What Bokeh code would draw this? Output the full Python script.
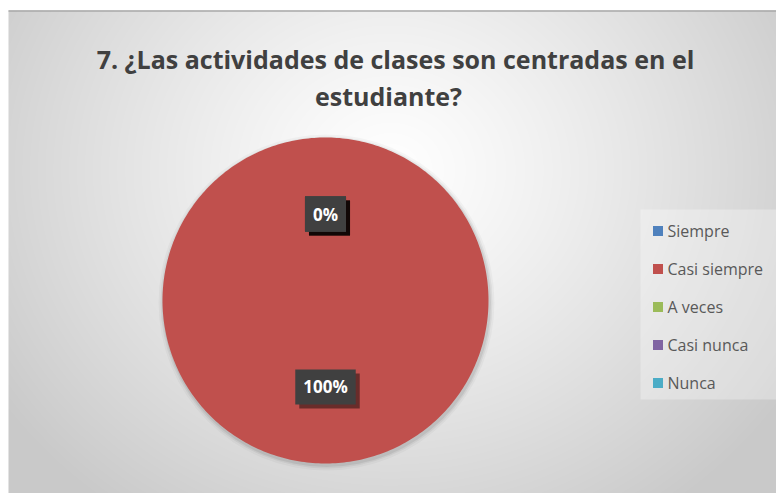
import numpy as np
from bokeh.plotting import figure
from bokeh.models import Range1d
from bokeh.core.properties import value
from bokeh.embed import file_html
from bokeh.resources import INLINE

# ---- data ----
title_lines = ["7. ¿Las actividades de clases son centradas en el", "estudiante?"]
categories = ["Siempre", "Casi siempre", "A veces", "Casi nunca", "Nunca"]
values = [0, 100, 0, 0, 0]
colors = ["#4F81BD", "#C0504D", "#9BBB59", "#8064A2", "#4BACC6"]

# ---- layout constants (pixel coordinates of the page) ----
W, H = 776, 493
CX, CY, R = 325, 300, 163
FONT = value("Open Sans")

p = figure(width=W, height=H, x_range=Range1d(0, W), y_range=Range1d(H, 0),
           output_backend="svg", toolbar_location=None, min_border=0,
           x_axis_location=None, y_axis_location=None)
p.grid.visible = False
p.outline_line_color = None
p.background_fill_color = "white"
p.border_fill_color = "white"

# background radial gradient (chart area)
gx0, gx1, gy0, gy1 = 8, 776, 10, 493
gw, gh = gx1 - gx0, gy1 - gy0
xx, yy = np.meshgrid(np.arange(gw) + gx0 + 0.5, np.arange(gh) + gy0 + 0.5)
d = np.sqrt(((xx - 390) / 470) ** 2 + ((yy - 170) / 420) ** 2)
g = (255 * (1 - 0.21 * np.clip(d, 0, 1) ** 1.2)).astype(np.uint32)
img = (np.uint32(255) << 24) | (g << 16) | (g << 8) | g
p.image_rgba(image=[img], x=gx0, y=gy0, dw=gw, dh=gh)
p.segment(x0=[gx0], y0=[gy0 + 0.5], x1=[gx1], y1=[gy0 + 0.5], line_color="#a8a8a8", line_width=1.5)

# pie shadow
for rr, a in [(168, 0.03), (166, 0.05), (164.5, 0.07)]:
    p.circle(x=[CX + 1], y=[CY + 2], radius=rr, fill_color="black", fill_alpha=a, line_color=None)

# pie slices
fr = np.array(values, dtype=float) / sum(values)
cum = np.concatenate([[0.0], np.cumsum(fr)])
xs, ys = [], []
for i in range(len(fr)):
    th = np.linspace(cum[i], cum[i + 1], max(2, int(fr[i] * 360) + 2)) * 2 * np.pi
    xs.append(list(np.concatenate([[CX], CX + R * np.sin(th)])))
    ys.append(list(np.concatenate([[CY], CY - R * np.cos(th)])))
p.patches(xs, ys, fill_color=colors, line_color=None)

# data labels
mid = (cum[:-1] + fr / 2) * 2 * np.pi
lx = CX + 0.53 * R * np.sin(mid)
ly = CY - 0.53 * R * np.cos(mid)
labels = [f"{v:.0f}%" for v in fr * 100]
common = dict(text_font=FONT, text_font_size="17px", text_font_style="bold",
              text_align="center", text_baseline="middle", padding=(8, 6))
p.text(x=lx, y=ly, text=labels, text_color="white", text_alpha=0,
       background_fill_color="black", background_fill_alpha=0.45,
       x_offset=4, y_offset=4, **common)
p.text(x=lx, y=ly, text=labels, text_color="white",
       background_fill_color="#404040", **common)

# legend
leg_y = [230.5 + i * 38 for i in range(len(categories))]
p.quad(left=[640], right=[790], top=[209], bottom=[399], fill_color="white",
       fill_alpha=0.3, line_color=None)
p.scatter(x=[657.5] * len(categories), y=leg_y, marker="square", size=10,
          fill_color=colors, line_color=None)
p.text(x=[667] * len(categories), y=leg_y, text=categories, text_font=FONT,
       text_font_size="16px", text_color="#595959", text_baseline="middle")

# title
p.text(x=[395, 388], y=[58, 95], text=title_lines, text_font=FONT,
       text_font_size="25px", text_font_style="bold", text_color="#404040",
       text_align="center", text_baseline="alphabetic")

open("out.html", "w").write(file_html(p, INLINE))
